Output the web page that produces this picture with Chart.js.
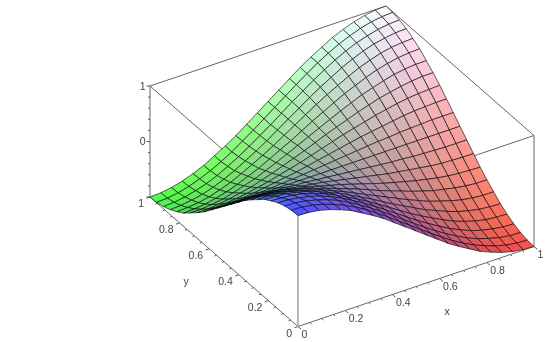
<!DOCTYPE html>
<html><head><meta charset="utf-8">
<style>html,body{margin:0;padding:0;background:#fff;overflow:hidden}canvas{display:block;filter:blur(.42px)}</style>
<script src="https://cdn.jsdelivr.net/npm/chart.js@4/dist/chart.umd.min.js"></script>
</head><body><canvas id="c" width="554" height="342"></canvas>
<script>
const gridX=[0,.0455,.0909,.1364,.1818,.2273,.2727,.3182,.3636,.4091,.4545,.5,.5455,.5909,.6364,.6818,.7273,.7727,.8182,.8636,.9091,.9545,1];
const gridY=[0,.0455,.0909,.1364,.1818,.2273,.2727,.3182,.3636,.4091,.4545,.5,.5455,.5909,.6364,.6818,.7273,.7727,.8182,.8636,.9091,.9545,1];
const surfaceZ=[
[1,.99,.96,.91,.84,.76,.65,.54,.42,.28,.14,0,-.14,-.28,-.42,-.54,-.65,-.76,-.84,-.91,-.96,-.99,-1],
[.99,.98,.95,.9,.83,.75,.65,.54,.41,.28,.14,0,-.14,-.28,-.41,-.54,-.65,-.75,-.83,-.9,-.95,-.98,-.99],
[.96,.95,.92,.87,.81,.73,.63,.52,.4,.27,.14,0,-.14,-.27,-.4,-.52,-.63,-.73,-.81,-.87,-.92,-.95,-.96],
[.91,.9,.87,.83,.77,.69,.6,.49,.38,.26,.13,0,-.13,-.26,-.38,-.49,-.6,-.69,-.77,-.83,-.87,-.9,-.91],
[.84,.83,.81,.77,.71,.64,.55,.45,.35,.24,.12,0,-.12,-.24,-.35,-.45,-.55,-.64,-.71,-.77,-.81,-.83,-.84],
[.76,.75,.73,.69,.64,.57,.49,.41,.31,.21,.11,0,-.11,-.21,-.31,-.41,-.49,-.57,-.64,-.69,-.73,-.75,-.76],
[.65,.65,.63,.6,.55,.49,.43,.35,.27,.18,.09,0,-.09,-.18,-.27,-.35,-.43,-.49,-.55,-.6,-.63,-.65,-.65],
[.54,.54,.52,.49,.45,.41,.35,.29,.22,.15,.08,0,-.08,-.15,-.22,-.29,-.35,-.41,-.45,-.49,-.52,-.54,-.54],
[.42,.41,.4,.38,.35,.31,.27,.22,.17,.12,.06,0,-.06,-.12,-.17,-.22,-.27,-.31,-.35,-.38,-.4,-.41,-.42],
[.28,.28,.27,.26,.24,.21,.18,.15,.12,.08,.04,0,-.04,-.08,-.12,-.15,-.18,-.21,-.24,-.26,-.27,-.28,-.28],
[.14,.14,.14,.13,.12,.11,.09,.08,.06,.04,.02,0,-.02,-.04,-.06,-.08,-.09,-.11,-.12,-.13,-.14,-.14,-.14],
[0,0,0,0,0,0,0,0,0,0,0,0,0,0,0,0,0,0,0,0,0,0,0],
[-.14,-.14,-.14,-.13,-.12,-.11,-.09,-.08,-.06,-.04,-.02,0,.02,.04,.06,.08,.09,.11,.12,.13,.14,.14,.14],
[-.28,-.28,-.27,-.26,-.24,-.21,-.18,-.15,-.12,-.08,-.04,0,.04,.08,.12,.15,.18,.21,.24,.26,.27,.28,.28],
[-.42,-.41,-.4,-.38,-.35,-.31,-.27,-.22,-.17,-.12,-.06,0,.06,.12,.17,.22,.27,.31,.35,.38,.4,.41,.42],
[-.54,-.54,-.52,-.49,-.45,-.41,-.35,-.29,-.22,-.15,-.08,0,.08,.15,.22,.29,.35,.41,.45,.49,.52,.54,.54],
[-.65,-.65,-.63,-.6,-.55,-.49,-.43,-.35,-.27,-.18,-.09,0,.09,.18,.27,.35,.43,.49,.55,.6,.63,.65,.65],
[-.76,-.75,-.73,-.69,-.64,-.57,-.49,-.41,-.31,-.21,-.11,0,.11,.21,.31,.41,.49,.57,.64,.69,.73,.75,.76],
[-.84,-.83,-.81,-.77,-.71,-.64,-.55,-.45,-.35,-.24,-.12,0,.12,.24,.35,.45,.55,.64,.71,.77,.81,.83,.84],
[-.91,-.9,-.87,-.83,-.77,-.69,-.6,-.49,-.38,-.26,-.13,0,.13,.26,.38,.49,.6,.69,.77,.83,.87,.9,.91],
[-.96,-.95,-.92,-.87,-.81,-.73,-.63,-.52,-.4,-.27,-.14,0,.14,.27,.4,.52,.63,.73,.81,.87,.92,.95,.96],
[-.99,-.98,-.95,-.9,-.83,-.75,-.65,-.54,-.41,-.28,-.14,0,.14,.28,.41,.54,.65,.75,.83,.9,.95,.98,.99],
[-1,-.99,-.96,-.91,-.84,-.76,-.65,-.54,-.42,-.28,-.14,0,.14,.28,.42,.54,.65,.76,.84,.91,.96,.99,1]
];
const axisMajor=[0,.2,.4,.6,.8,1];
const axisMinor=[.05,.1,.15,.25,.3,.35,.45,.5,.55,.65,.7,.75,.85,.9,.95];
const zMajor=[1,0,-1];
const zMinor=[.8,.6,.4,.2,-.2,-.4,-.6,-.8];
const tickLabels=['0','0.2','0.4','0.6','0.8','1'];
const zTickLabels=['1','0',''];

const project=(x,y,z)=>({x:298+236*x-148*y,y:326.5-80*x-129.5*y-55.5*(z+1)});
const shade=v=>Math.round(255*(.3+.7*v));
const sets=[];
for(let j=0;j<gridY.length-1;j++)for(let i=0;i<gridX.length-1;i++){
  const c=[[i,j],[i+1,j],[i+1,j+1],[i,j+1],[i,j]];
  const pts=c.map(([a,b])=>project(gridX[a],gridY[b],surfaceZ[b][a]));
  const mx=(gridX[i]+gridX[i+1])/2,my=(gridY[j]+gridY[j+1])/2;
  const mz=(surfaceZ[j][i]+surfaceZ[j][i+1]+surfaceZ[j+1][i]+surfaceZ[j+1][i+1])/4;
  sets.push({data:pts,showLine:true,fill:'shape',tension:.0001,pointRadius:0,borderWidth:1,
    borderColor:'rgba(0,0,0,.62)',backgroundColor:`rgb(${shade(mx)},${shade(my)},${shade((mz+1)/2)})`});
}
const line=(pts,color,w)=>({data:pts,showLine:true,fill:false,tension:0,pointRadius:0,borderWidth:w,borderColor:color});
const edge=(a,b,c='#666',w=1)=>line([project(...a),project(...b)],c,w);
sets.push(edge([0,0,-1],[0,0,1],'#bbb',2));
sets.push(edge([0,0,-1],[1,0,-1]),edge([0,0,-1],[0,1,-1]),edge([1,0,-1],[1,0,1]),edge([0,1,-1],[0,1,1]));
sets.push(edge([0,0,1],[1,0,1]),edge([0,0,1],[0,1,1]),edge([1,0,1],[1,1,1]),edge([0,1,1],[1,1,1]));
const tick=(p,dx,dy)=>line([p,{x:p.x+dx,y:p.y+dy}],'#555',1);
axisMajor.forEach(v=>{sets.push(tick(project(v,0,-1),3.2,2.8),tick(project(0,v,-1),-3.6,1.2));});
axisMinor.forEach(v=>{sets.push(tick(project(v,0,-1),1.8,1.6),tick(project(0,v,-1),-2,.7));});
zMajor.forEach(v=>sets.push(tick(project(0,1,v),-3.5,0)));
zMinor.forEach(v=>sets.push(tick(project(0,1,v),-2,0)));

const labels={id:'labels',afterDatasetsDraw(chart){
  const {ctx,scales:{x:sx,y:sy}}=chart;
  const at=(p,dx,dy)=>[sx.getPixelForValue(p.x)+dx,sy.getPixelForValue(p.y)+dy];
  ctx.save();ctx.font='10.5px "Liberation Sans"';ctx.fillStyle='#444';ctx.textBaseline='middle';
  ctx.textAlign='left';
  axisMajor.forEach((v,k)=>ctx.fillText(tickLabels[k],...at(project(v,0,-1),3.5,8.5)));
  ctx.textAlign='right';
  axisMajor.forEach((v,k)=>ctx.fillText(tickLabels[k],...at(project(0,v,-1),-6,7.5)));
  zMajor.forEach((v,k)=>ctx.fillText(zTickLabels[k],...at(project(0,1,v),-4.5,1)));
  ctx.textAlign='center';
  ctx.fillText('x',...at(project(.5,0,-1),31,26));
  ctx.fillText('y',...at(project(0,.5,-1),-38,20));
  ctx.restore();
}};
new Chart(document.getElementById('c'),{type:'scatter',data:{datasets:sets},plugins:[labels],options:{
  responsive:false,animation:false,events:[],layout:{padding:0},
  plugins:{legend:{display:false},tooltip:{enabled:false},title:{display:false}},
  scales:{x:{type:'linear',min:0,max:554,display:false},y:{type:'linear',min:0,max:342,reverse:true,display:false}}
}});
</script></body></html>
